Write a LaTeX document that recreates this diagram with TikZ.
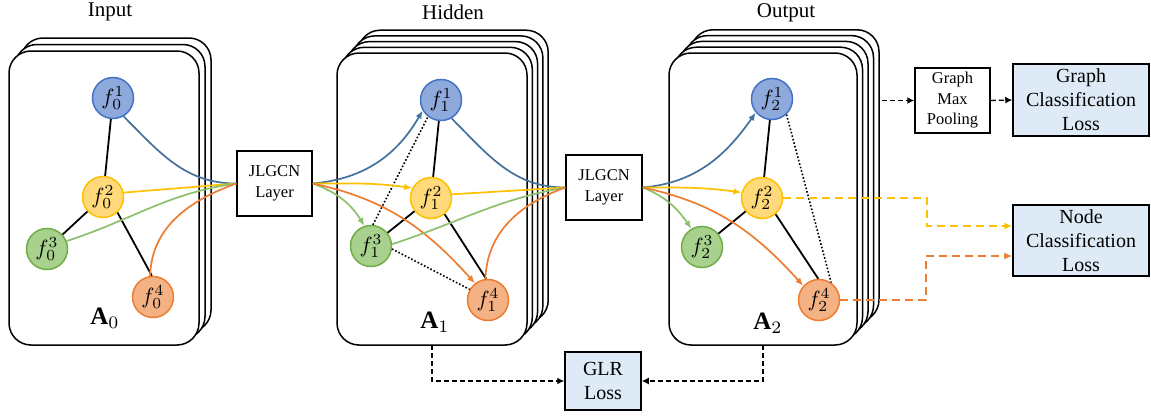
\documentclass[tikz,border=0pt]{standalone}
\usepackage{graphicx}
\usepackage{fontspec}
\setmainfont{Liberation Serif}
\usetikzlibrary{arrows.meta}
\definecolor{BluF}{HTML}{8EA9DB}
\definecolor{BluD}{HTML}{4472C4}
\definecolor{YelF}{HTML}{FFD97A}
\definecolor{YelD}{HTML}{FFC000}
\definecolor{GrnF}{HTML}{A9D18E}
\definecolor{GrnD}{HTML}{70AD47}
\definecolor{OrgF}{HTML}{F4B183}
\definecolor{OrgD}{HTML}{ED7D31}
\definecolor{BluE}{HTML}{41719C}
\definecolor{GrnE}{HTML}{8DC06C}
\definecolor{LossF}{HTML}{DEEBF7}
\newcommand\nodemath[1]{\scalebox{2.2}{$#1$}}
\newcommand\matlab[1]{\scalebox{2.5}{$\mathbf{A}_{#1}$}}
\begin{document}
\begin{tikzpicture}[x=1pt,y=1pt,
  panel/.style={draw, fill=white, line width=1.5pt, rounded corners=22pt},
  fnode/.style={circle, line width=1.5pt, minimum size=41pt, inner sep=0pt},
  nb/.style={fnode, draw=BluD, fill=BluF},
  ny/.style={fnode, draw=YelD, fill=YelF},
  ng/.style={fnode, draw=GrnD, fill=GrnF},
  no/.style={fnode, draw=OrgD, fill=OrgF},
  ttl/.style={font=\fontsize{21}{24}\selectfont},
  amat/.style={inner sep=0pt},
  proc/.style={draw, line width=1.5pt, fill=white, align=center, inner sep=0pt, font=\fontsize{16.5}{21}\selectfont},
  loss/.style={draw, line width=1.5pt, fill=LossF, align=center, inner sep=0pt, font=\fontsize{20}{24}\selectfont},
  bl/.style={line width=1.8pt},
  dl/.style={line width=1.6pt, dotted},
  eb/.style={line width=1.7pt, draw=BluE},
  ey/.style={line width=1.7pt, draw=YelD},
  eg/.style={line width=1.7pt, draw=GrnE},
  eo/.style={line width=1.7pt, draw=OrgD},
  tip/.style={-{Latex[length=8pt,width=6.5pt]}},
  kdash/.style={line width=1.4pt, dash pattern=on 5pt off 3pt, -{Latex[length=7pt,width=7pt]}},
  cdash/.style={line width=1.6pt, dash pattern=on 8pt off 5pt, -{Latex[length=8pt,width=7pt]}}
]
\useasboundingbox (0,0) rectangle (1151,-415);

% panels
\foreach \i in {2,1,0} \draw[panel] ({9+6*\i},{-51+6.5*\i}) rectangle ({199+6*\i},{-345+6.5*\i});
\foreach \i in {4,3,2,1,0} \draw[panel] ({337+5.3*\i},{-53+5.7*\i}) rectangle ({527+5.3*\i},{-345+5.7*\i});
\foreach \i in {4,3,2,1,0} \draw[panel] ({669+5.5*\i},{-53+5.8*\i}) rectangle ({857+5.5*\i},{-345+5.8*\i});

% titles
\node[ttl] (tin) at (110,-12) {Input};
\node[ttl] (thid) at (453,-12) {Hidden};
\node[ttl] (tout) at (786,-13) {Output};

% matrices labels
\node[amat] (a0) at (105,-318) {\matlab{0}};
\node[amat] (a1) at (435,-322) {\matlab{1}};
\node[amat] (a2) at (768,-323) {\matlab{2}};

% nodes
\node[nb] (l1) at (113,-98) {\nodemath{f_0^1}};
\node[ny] (l2) at (103,-197) {\nodemath{f_0^2}};
\node[ng] (l3) at (47,-249) {\nodemath{f_0^3}};
\node[no] (l4) at (153,-297) {\nodemath{f_0^4}};

\node[nb] (m1) at (441,-100) {\nodemath{f_1^1}};
\node[ny] (m2) at (431,-198) {\nodemath{f_1^2}};
\node[ng] (m3) at (371,-246) {\nodemath{f_1^3}};
\node[no] (m4) at (488,-300) {\nodemath{f_1^4}};

\node[nb] (r1) at (772,-99) {\nodemath{f_2^1}};
\node[ny] (r2) at (762,-198) {\nodemath{f_2^2}};
\node[ng] (r3) at (702,-247) {\nodemath{f_2^3}};
\node[no] (r4) at (819,-300) {\nodemath{f_2^4}};

% boxes
\node[proc, minimum width=75pt, minimum height=65pt] (j1) at (274.5,-183.5) {JLGCN\\Layer};
\node[proc, minimum width=76pt, minimum height=65pt] (j2) at (604,-187.5) {JLGCN\\Layer};
\node[proc, minimum width=75pt, minimum height=65pt, font=\fontsize{16.5}{20.5}\selectfont] (pool) at (952.5,-100.5) {Graph\\Max\\Pooling};
\node[loss, minimum width=136pt, minimum height=72pt] (gcl) at (1081,-100) {Graph\\Classification\\Loss};
\node[loss, minimum width=136pt, minimum height=71pt] (ncl) at (1081,-240.5) {Node\\Classification\\Loss};
\node[loss, minimum width=76pt, minimum height=58pt] (glr) at (603,-381) {GLR\\Loss};

% left graph
\draw[bl] (l1) -- (l2);
\draw[bl] (l2) -- (l3);
\draw[bl] (l2.-47) -- (l4.93);
\draw[eb] (l1.-60) to[out=-45,in=180] (j1.west);
\draw[ey] (l2.12) -- (j1.west);
\draw[eg] (l3.22) to[out=18,in=188] (j1.west);
\draw[eo] (l4.98) to[out=88,in=200] (j1.west);

% middle graph
\draw[bl] (m1) -- (m2);
\draw[bl] (m2) -- (m3);
\draw[bl] (m2.-50) -- (m4.95);
\draw[dl] (m3.85) -- (m1.-128);
\draw[dl] (m3.-8) -- (m4.150);
\draw[eb,tip] (j1.east) to[out=5,in=-120] (m1.-150);
\draw[ey,tip] (j1.east) to[out=0,in=172] (m2.152);
\draw[eg,tip] (j1.east) to[out=-20,in=122] (m3.108);
\draw[eo,tip] (j1.east) to[out=-12,in=132] (m4.128);
\draw[eb] (m1.-60) to[out=-45,in=180] (j2.west);
\draw[ey] (m2.10) -- (j2.west);
\draw[eg] (m3.5) to[out=18,in=190] (j2.west);
\draw[eo] (m4.97) to[out=88,in=200] (j2.west);

% right graph
\draw[bl] (r1) -- (r2);
\draw[bl] (r2) -- (r3);
\draw[bl] (r2.-50) -- (r4.92);
\draw[dl] (r1.-47) -- (r4.55);
\draw[eb,tip] (j2.east) to[out=5,in=-125] (r1.-140);
\draw[ey,tip] (j2.east) to[out=0,in=172] (r2.165);
\draw[eg,tip] (j2.east) to[out=-22,in=125] (r3.120);
\draw[eo,tip] (j2.east) to[out=-12,in=132] (r4.138);

% outputs
\coordinate (gs) at (882,-100.5);
\draw[kdash] (gs) -- (pool.west);
\draw[kdash] (pool.east) -- (gcl.west);
\coordinate (yc) at (927,-226);
\draw[cdash, draw=YelD] (r2.east) -| (yc) -- (yc -| ncl.west);
\coordinate (oc) at (926,-256);
\draw[cdash, draw=OrgD] (r4.east) -| (oc) -- (oc -| ncl.west);
\coordinate (ga) at (432,-345);
\coordinate (gb) at (763,-345);
\draw[kdash] (ga) |- (glr.west);
\draw[kdash] (gb) |- (glr.east);
\end{tikzpicture}
\end{document}
